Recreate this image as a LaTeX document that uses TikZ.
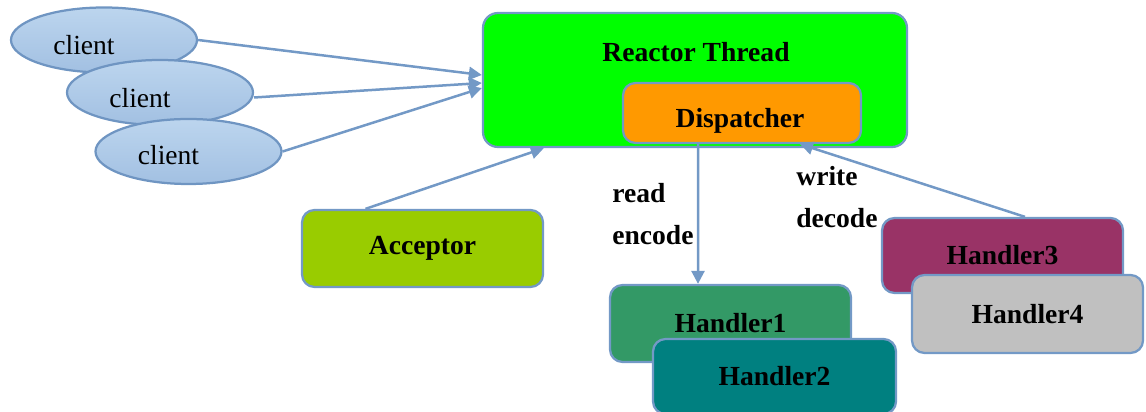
\documentclass[tikz,border=0pt]{standalone}
\usepackage{fontspec}
\setmainfont{Liberation Serif}
\usetikzlibrary{arrows.meta,shapes.geometric}
\definecolor{edge}{HTML}{7399C6}
\definecolor{cliedge}{HTML}{6F95C2}
\definecolor{clitop}{HTML}{BCD5EE}
\definecolor{clibot}{HTML}{A2C0E2}
\definecolor{react}{HTML}{00FF00}
\definecolor{disp}{HTML}{FF9900}
\definecolor{accept}{HTML}{99CC00}
\definecolor{hone}{HTML}{339966}
\definecolor{htwo}{HTML}{008080}
\definecolor{hthree}{HTML}{993366}
\definecolor{hfour}{HTML}{C0C0C0}
\tikzset{box/.style={draw=edge,line width=0.45mm,rounded corners=2.5mm,minimum width=4.82cm,minimum height=1.54cm,inner sep=0pt,font=\bfseries\fontsize{15.7}{19}\selectfont},cli/.style={ellipse,draw=cliedge,line width=0.45mm,top color=clitop,bottom color=clibot,minimum width=3.72cm,minimum height=1.3cm,inner sep=0pt},ctext/.style={font=\fontsize{15.7}{19}\selectfont},arr/.style={-{Triangle[length=2.6mm,width=2.6mm]},line width=0.5mm,draw=edge},lbl/.style={anchor=west,align=left,inner sep=0pt,font=\bfseries\fontsize{15.7}{24}\selectfont}}

\begin{document}
\begin{tikzpicture}
\useasboundingbox (0,0) rectangle (22.92,-8.24);
\node[cli,label={[ctext,xshift=-4mm,yshift=-1mm]center:client}] (c1) at (2.08,-0.8) {};
\node[cli,label={[ctext,xshift=-4mm,yshift=-1.2mm]center:client}] (c2) at (3.2,-1.85) {};
\node[cli,label={[ctext,xshift=-4mm,yshift=-0.8mm]center:client}] (c3) at (3.77,-3.03) {};
\node[box,fill=react,minimum width=8.48cm,minimum height=2.68cm,rounded corners=3mm] (reactor) at (13.9,-1.6) {};
\node[font=\bfseries\fontsize{15.7}{19}\selectfont] (rtitle) at (13.92,-1.04) {Reactor Thread};
\node[box,fill=disp,minimum width=4.76cm,minimum height=1.2cm] (dispatch) at (14.84,-2.26) {};
\node[font=\bfseries\fontsize{15.7}{19}\selectfont] (dtitle) at (14.8,-2.42) {Dispatcher};
\node[box,fill=accept] (acc) at (8.45,-4.97) {Acceptor};
\node[box,fill=hone] (h1) at (14.61,-6.47) {Handler1};
\node[box,fill=htwo,minimum width=4.86cm,minimum height=1.5cm] (h2) at (15.49,-7.53) {Handler2};
\node[box,fill=hthree,minimum height=1.5cm] (h3) at (20.05,-5.11) {Handler3};
\node[box,fill=hfour,minimum width=4.62cm,minimum height=1.56cm] (h4) at (20.55,-6.28) {Handler4};
\node[lbl] (rd) at (12.24,-4.28) {read\\encode};
\node[lbl] (wr) at (15.92,-3.94) {write\\decode};
\draw[arr] (c1.east)--([yshift=1mm]reactor.west);
\draw[arr] ([yshift=-1mm]c2.east)--([yshift=-0.6mm]reactor.west);
\draw[arr] (c3.east)--([yshift=-1.6mm]reactor.west);
\draw[arr] ([xshift=-11.4mm]acc.north)--([xshift=12.4mm]reactor.south west);
\draw[arr] ([xshift=-8.8mm]dispatch.south)--([xshift=-6.5mm]h1.north);
\draw[arr] ([xshift=4.5mm]h3.north)--([xshift=11.6mm]dispatch.south);
\end{tikzpicture}
\end{document}
